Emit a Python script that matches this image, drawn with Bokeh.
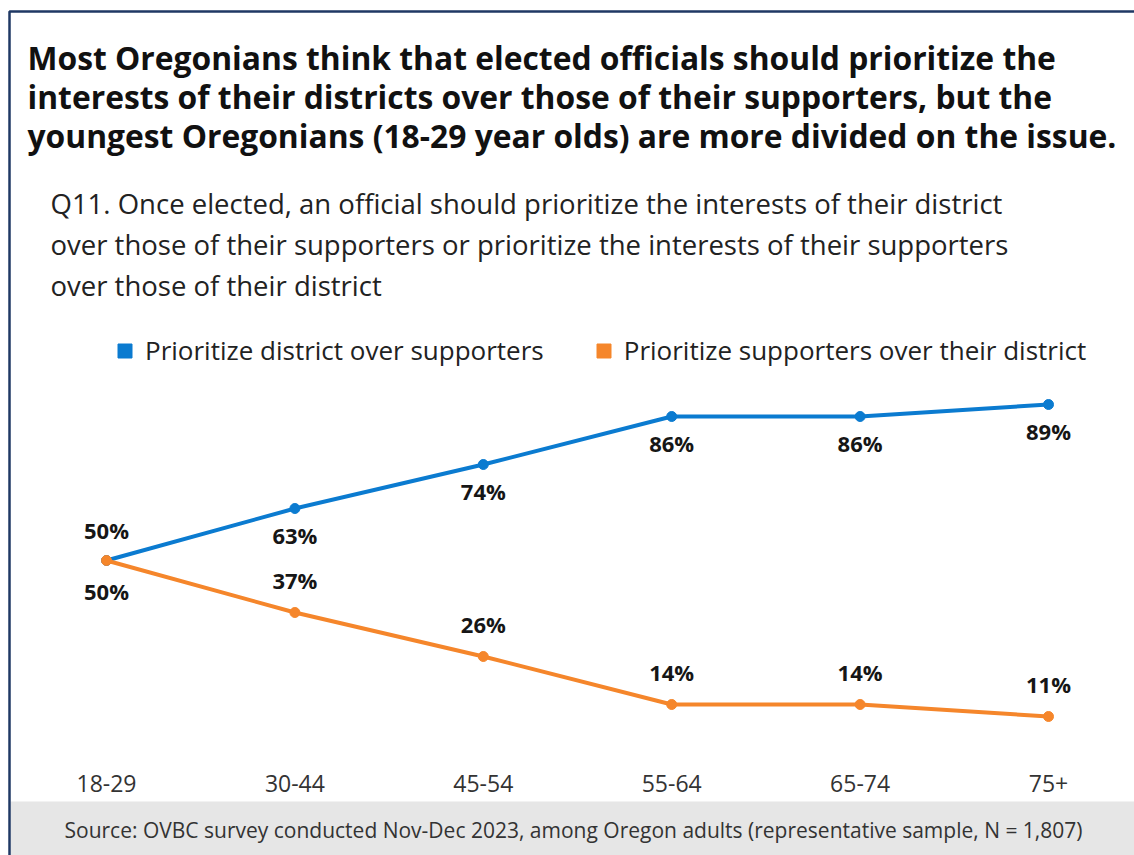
from bokeh.plotting import figure
from bokeh.models import Range1d, Label, BoxAnnotation, Legend, LegendItem
from bokeh.embed import file_html
from bokeh.resources import INLINE
from bokeh.core.properties import value

# ---------------- data ----------------
title_lines = [
    "Most Oregonians think that elected officials should prioritize the",
    "interests of their districts over those of their supporters, but the",
    "youngest Oregonians (18-29 year olds) are more divided on the issue.",
]
subtitle_lines = [
    "Q11. Once elected, an official should prioritize the interests of their district",
    "over those of their supporters or prioritize the interests of their supporters",
    "over those of their district",
]
categories = ["18-29", "30-44", "45-54", "55-64", "65-74", "75+"]
district_first = [50, 63, 74, 86, 86, 89]
supporters_first = [50, 37, 26, 14, 14, 11]
series_names = ["Prioritize district over supporters",
                "Prioritize supporters over their district"]
source_note = ("Source: OVBC survey conducted Nov-Dec 2023, among Oregon adults "
               "(representative sample, N = 1,807)")

# ---------------- style ----------------
BLUE = "#0b7bd0"
ORANGE = "#f5862b"
FONT = "Open Sans"
TXT = "#161616"

W, H = 1134, 855
X0_PX, STEP_PX = 106, 188.4      # first category centre and spacing (px)
ZERO_PY, PX_PER_PCT = 760, 4.0   # where 0 % sits (px from top) and scale

xs = list(range(len(categories)))
p = figure(width=W, height=H, output_backend="svg", toolbar_location=None,
           x_axis_type=None, y_axis_type=None,
           x_range=Range1d(-X0_PX / STEP_PX, (W - X0_PX) / STEP_PX),
           y_range=Range1d(-(H - ZERO_PY) / PX_PER_PCT, ZERO_PY / PX_PER_PCT),
           min_border=0)
p.outline_line_color = None
p.grid.visible = False
p.background_fill_color = "white"
p.border_fill_color = "white"


def sy(py):
    return H - py


# footer band and frame border
p.add_layout(BoxAnnotation(left=10, right=W + 50, top=sy(801), bottom=sy(H + 50),
                           left_units="screen", right_units="screen",
                           top_units="screen", bottom_units="screen",
                           fill_color="#e6e6e6", fill_alpha=1, line_color=None,
                           level="underlay"))
p.add_layout(BoxAnnotation(left=9, right=W + 50, top=sy(11), bottom=sy(H + 50),
                           left_units="screen", right_units="screen",
                           top_units="screen", bottom_units="screen",
                           fill_color=None, fill_alpha=0, line_color="#1f3864",
                           line_alpha=1, line_width=2.5, level="underlay"))

# category labels (x axis)
p.text(x=xs, y=[0] * len(xs), text=categories, y_offset=23,
       text_align="center", text_baseline="middle",
       text_font=value(FONT), text_font_size="23px", text_color="#333333")

# lines
p.line(xs, district_first, line_color=BLUE, line_width=4)
p.scatter(xs, district_first, size=10, fill_color=BLUE, line_color=BLUE)
p.line(xs, supporters_first, line_color=ORANGE, line_width=4)
p.scatter(xs, supporters_first, size=10, fill_color=ORANGE, line_color=ORANGE)

# data labels
blue_off = [-31] + [26] * (len(xs) - 1)
orange_off = [30] + [-33] * (len(xs) - 1)
for vals, offs in ((district_first, blue_off), (supporters_first, orange_off)):
    p.text(x=xs, y=vals, text=[f"{v}%" for v in vals], y_offset=offs,
           text_align="center", text_baseline="middle",
           text_font=value(FONT), text_font_style="bold",
           text_font_size="22px", text_color=TXT)

# legend (square markers; invisible size-0 markers only feed the legend)
sq_b = p.scatter(xs, district_first, marker="square", size=0,
                 fill_color=BLUE, line_color=BLUE)
sq_o = p.scatter(xs, supporters_first, marker="square", size=0,
                 fill_color=ORANGE, line_color=ORANGE)
legend = Legend(items=[LegendItem(label=value(series_names[0]), renderers=[sq_b]),
                       LegendItem(label=value(series_names[1]), renderers=[sq_o])],
                orientation="horizontal", location=(107, sy(368)),
                glyph_width=35, glyph_height=35, label_standoff=3, spacing=42,
                padding=0, margin=0, border_line_color=None,
                background_fill_alpha=0, label_text_font=FONT,
                label_text_font_size="26px", label_text_color="#222222")
p.add_layout(legend, "center")

# titles
for i, t in enumerate(title_lines):
    p.add_layout(Label(x=27, y=sy(57 + 39 * i), x_units="screen", y_units="screen",
                       text=t, text_font=FONT, text_font_style="bold",
                       text_font_size="31.8px", text_color="#111111",
                       text_baseline="middle", text_align="left"))
for i, t in enumerate(subtitle_lines):
    p.add_layout(Label(x=50, y=sy(203 + 41 * i), x_units="screen", y_units="screen",
                       text=t, text_font=FONT, text_font_size="27.5px",
                       text_color="#222222", text_baseline="middle",
                       text_align="left"))

p.add_layout(Label(x=573, y=sy(829), x_units="screen", y_units="screen",
                   text=source_note, text_font=FONT, text_font_size="21px",
                   text_color="#333333", text_baseline="middle", text_align="center"))

open("out.html", "w").write(file_html(p, INLINE))
